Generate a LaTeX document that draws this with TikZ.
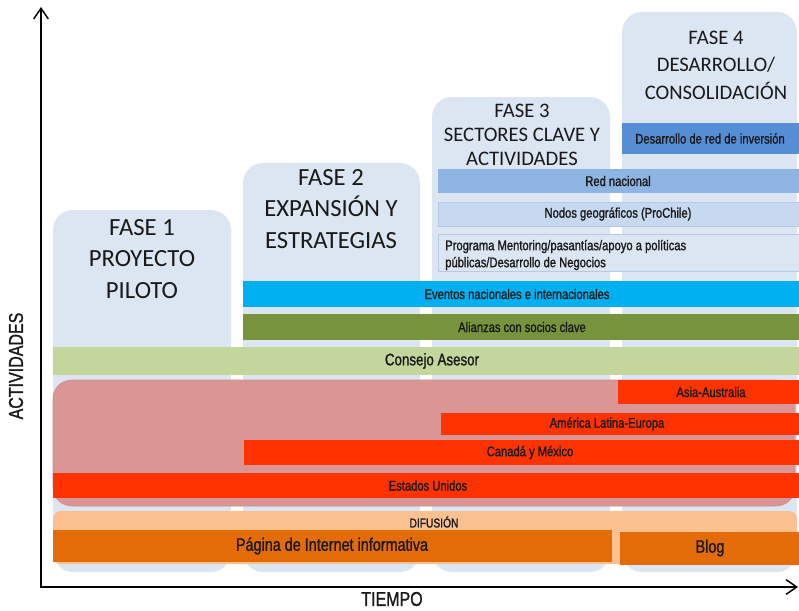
\documentclass[tikz,border=0pt]{standalone}
\usepackage{fontspec}
\setmainfont{Carlito}
\newfontfamily\narrowfont[FakeStretch=0.8,FakeBold=1.2]{Liberation Sans}
\usetikzlibrary{arrows.meta}
\definecolor{faseblue}{RGB}{220,230,242}
\definecolor{invblue}{RGB}{85,142,213}
\definecolor{rnblue}{RGB}{142,180,227}
\definecolor{nodblue}{RGB}{198,217,241}
\definecolor{nodline}{RGB}{182,202,228}
\definecolor{evcyan}{RGB}{0,176,240}
\definecolor{aliolive}{RGB}{119,147,60}
\definecolor{consgreen}{RGB}{195,214,155}
\definecolor{regpink}{RGB}{217,150,148}
\definecolor{regline}{RGB}{205,140,140}
\definecolor{regred}{RGB}{255,51,0}
\definecolor{difpeach}{RGB}{250,192,144}
\definecolor{diforange}{RGB}{227,108,9}

\begin{document}
\begin{tikzpicture}[x=0.75pt,y=-0.75pt,
    every node/.style={font=\narrowfont\fontsize{10.5}{12.75}\selectfont,
        inner sep=0pt,text=black!90},
    fasetitle/.style={font=\fontsize{18.5}{23.6}\selectfont,align=center},
    axis/.style={line width=1.1pt,
        {Straight Barb[length=8pt,width=11pt]}-{Straight Barb[length=8pt,width=11pt]}}]
    \useasboundingbox (0,0) rectangle (799,610);
    % phase columns
    \foreach \xa/\ya/\xb in {53/210/231,243/163/420,432/97/610,622/12/797}
        \fill[faseblue,rounded corners=15pt] (\xa,\ya) rectangle (\xb,572);
    \node[fasetitle] (fase1) at (142,259) {FASE 1\\PROYECTO\\PILOTO};
    \node[fasetitle] (fase2) at (331,209) {FASE 2\\EXPANSIÓN Y\\ESTRATEGIAS};
    \node[fasetitle,font=\fontsize{15.5}{18.2}\selectfont] (fase3) at (522,135)
        {FASE 3\\SECTORES CLAVE Y\\ACTIVIDADES};
    \node[fasetitle,font=\fontsize{15.5}{20.6}\selectfont] (fase4) at (716,65)
        {FASE 4\\DESARROLLO/\\CONSOLIDACIÓN};
    % regional block
    \filldraw[fill=regpink,draw=regline,rounded corners=14pt] (53,380) rectangle (795,506);
    % activity bars
    \foreach \xa/\ya/\xb/\yb/\col/\edge/\tx/\nm/\txt in {
        622/123/799/154/invblue/none/710/redinv/Desarrollo de red de inversión,
        438/169/799/193/rnblue/none/618/rednac/Red nacional,
        438/202/799/226/nodblue/nodline/618/nodos/Nodos geográficos (ProChile),
        243/281/799/307/evcyan/none/517/eventos/Eventos nacionales e internacionales,
        243/314/799/340/aliolive/none/522/alianzas/Alianzas con socios clave,
        618/380/799/404/regred/none/711/asia/Asia-Australia,
        441/413/799/435/regred/none/607/amlat/América Latina-Europa,
        244/440/799/465/regred/none/530/canmex/Canadá y México,
        53/473/799/498/regred/none/428/eeuu/Estados Unidos} {
        \path[fill=\col,draw=\edge] (\xa,\ya) rectangle (\xb,\yb);
        \node (\nm) at (\tx,{(\ya+\yb)/2}) {\txt};
    }
    \path[fill=faseblue,draw=nodline] (438,234) rectangle (799,271);
    \node[anchor=west,align=left] (mentor) at (445,255)
        {Programa Mentoring/pasantías/apoyo a políticas\\públicas/Desarrollo de Negocios};
    \fill[consgreen] (53,347) rectangle (799,375);
    \node[font=\narrowfont\fontsize{12.5}{14}\selectfont] (consejo) at (432,361) {Consejo Asesor};
    % difusion
    \fill[difpeach,rounded corners=6pt] (53,511) rectangle (797,564);
    \node[font=\narrowfont\fontsize{9.6}{11}\selectfont] (difusion) at (434,522) {DIFUSIÓN};
    \fill[diforange] (53,530) rectangle (612,562);
    \node[font=\narrowfont\fontsize{13.5}{15}\selectfont] (pagina) at (332,546)
        {Página de Internet informativa};
    \fill[diforange] (620,532) rectangle (799,565);
    \node[font=\narrowfont\fontsize{13.5}{15}\selectfont] (blog) at (710,548) {Blog};
    % axes
    \coordinate (ytop) at (41,7);
    \coordinate (origin) at (41,587);
    \coordinate (xend) at (798,587);
    \draw[axis] (ytop) -- (origin) -- (xend);
    \node[font=\narrowfont\fontsize{15}{17}\selectfont,rotate=90] (actividades) at (16,366) {ACTIVIDADES};
    \node[font=\narrowfont\fontsize{15}{17}\selectfont] (tiempo) at (392,599) {TIEMPO};
\end{tikzpicture}
\end{document}
